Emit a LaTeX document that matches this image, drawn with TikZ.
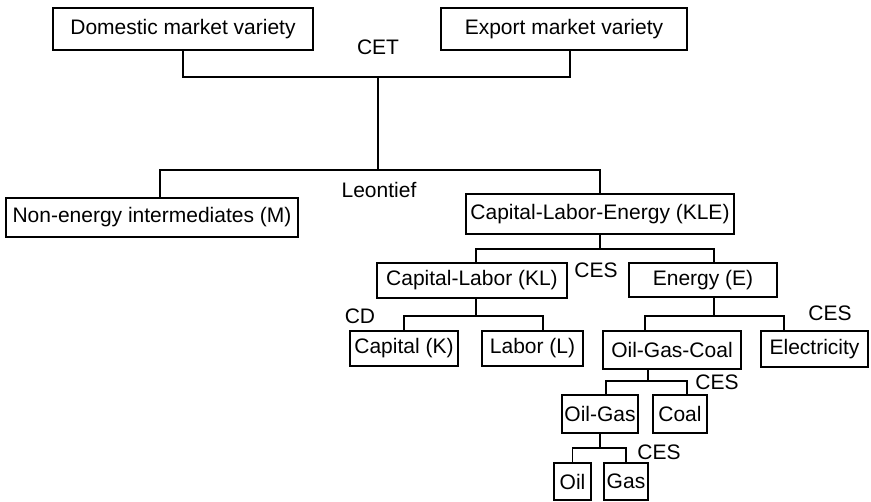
\documentclass[tikz,border=0pt]{standalone}
\usepackage{fontspec}
\setmainfont{Liberation Sans}
\begin{document}
\begin{tikzpicture}[x=1pt,y=-1pt,
  every node/.style={font=\fontsize{21}{25}\selectfont, inner sep=0pt},
  box/.style={draw, line width=1.1pt},
  lab/.style={},
  conn/.style={line width=1.1pt}]
\useasboundingbox[fill=white] (0,0) rectangle (871,502);
% boxes
\node[box, minimum width=260pt, minimum height=42pt] (dom) at (183,29) {Domestic market variety};
\node[box, minimum width=246pt, minimum height=42pt] (exp) at (564,29) {Export market variety};
\node[box, minimum width=292pt, minimum height=39pt] (nonen) at (152,217.5) {Non-energy intermediates (M)};
\node[box, minimum width=268pt, minimum height=40pt] (kle) at (600,214) {Capital-Labor-Energy (KLE)};
\node[box, minimum width=190pt, minimum height=35pt] (kl) at (472,280.5) {Capital-Labor (KL)};
\node[box, minimum width=148pt, minimum height=34pt] (en) at (703,280) {Energy (E)};
\node[box, minimum width=108pt, minimum height=35pt] (cap) at (404,348.5) {Capital (K)};
\node[box, minimum width=101pt, minimum height=35pt] (labr) at (532.5,348.5) {Labor (L)};
\node[box, minimum width=138pt, minimum height=38pt] (ogc) at (672,350) {Oil-Gas-Coal};
\node[box, minimum width=107pt, minimum height=36pt] (ele) at (814.5,349) {Electricity};
\node[box, minimum width=76pt, minimum height=38pt] (og) at (600,414) {Oil-Gas};
\node[box, minimum width=54pt, minimum height=38pt] (coal) at (680,414) {Coal};
\node[box, minimum width=37pt, minimum height=37pt] (oil) at (572.5,481.5) {Oil};
\node[box, minimum width=44pt, minimum height=37pt] (gas) at (626,481.5) {Gas};
% labels
\node[lab] (cet) at (378,47) {CET};
\node[lab] (leo) at (379,190) {Leontief};
\node[lab] (ces1) at (596,270) {CES};
\node[lab] (cd) at (360,316) {CD};
\node[lab] (ces2) at (830,313) {CES};
\node[lab] (ces3) at (717,382) {CES};
\node[lab] (ces4) at (659,452) {CES};
% junctions
\coordinate (j1) at (378,77);
\coordinate (j2) at (378,170);
\coordinate (j3) at (600,249);
\coordinate (j4) at (476,316);
\coordinate (j5) at (714,316);
\coordinate (j6) at (648,381);
\coordinate (j7) at (600,448);
% connectors
\draw[conn] (dom.south) |- (j1) -| ([xshift=6pt]exp.south);
\draw[conn] (j1) -- (j2);
\draw[conn] ([xshift=8pt]nonen.north) |- (j2) -| (kle.north);
\draw[conn] (kle.south) -- (j3);
\draw[conn] ([xshift=4pt]kl.north) |- (j3) -| ([xshift=11pt]en.north);
\draw[conn] ([xshift=4pt]kl.south) -- (j4);
\draw[conn] (cap.north) |- (j4) -| ([xshift=10.5pt]labr.north);
\draw[conn] ([xshift=11pt]en.south) -- (j5);
\draw[conn] ([xshift=-27pt]ogc.north) |- (j5) -| ([xshift=-30.5pt]ele.north);
\draw[conn] ([xshift=-24pt]ogc.south) -- (j6);
\draw[conn] ([xshift=6pt]og.north) |- (j6) -| ([xshift=7pt]coal.north);
\draw[conn] (og.south) -- (j7);
\draw[conn] (oil.north) |- (j7) -| (gas.north);
\end{tikzpicture}
\end{document}
